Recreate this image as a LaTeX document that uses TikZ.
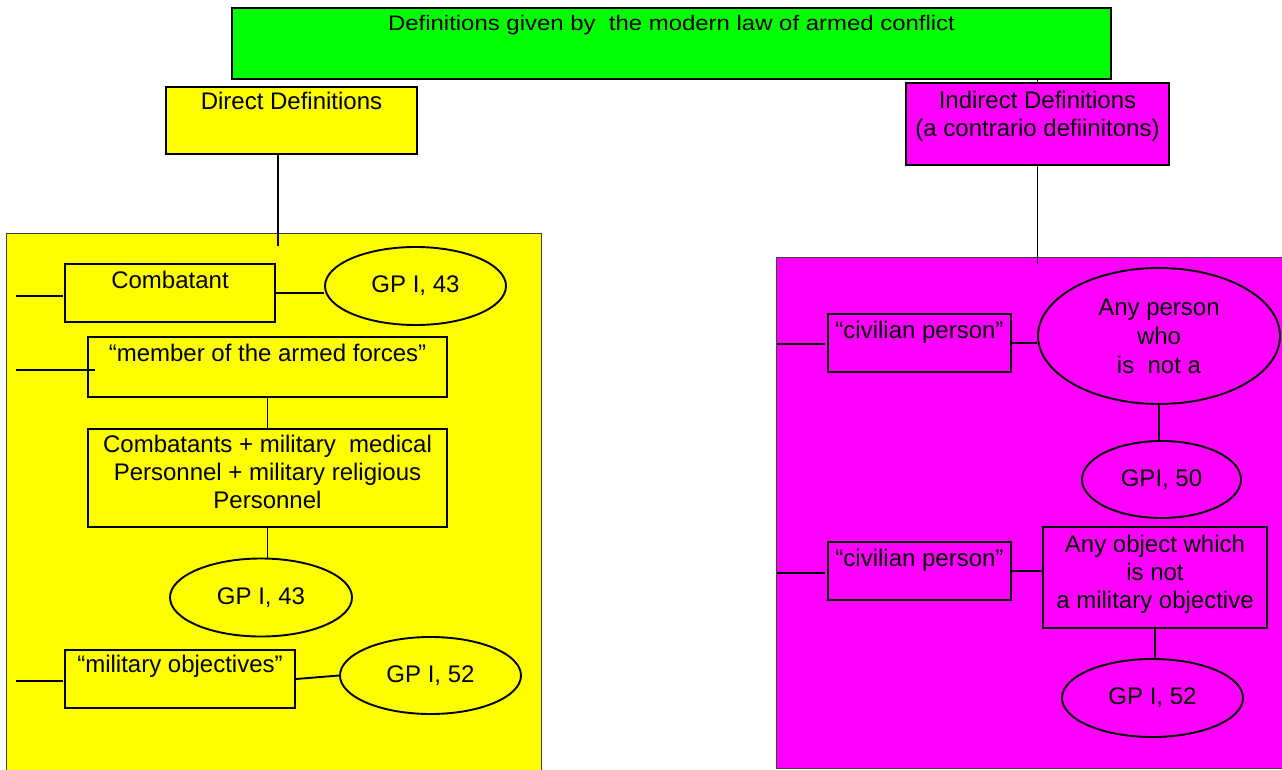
\documentclass[tikz,border=0pt]{standalone}
\usepackage{fontspec}
\setmainfont{Liberation Sans}
\usetikzlibrary{shapes.geometric}
\definecolor{ylw}{RGB}{255,255,0}
\definecolor{mgt}{RGB}{255,0,255}
\definecolor{grn}{RGB}{0,255,0}
\newcommand{\tbx}[4]{\parbox[c][#2pt][t]{#1pt}{\centering\vspace*{#3pt}#4\par}}
\begin{document}
\begin{tikzpicture}[x=1pt,y=-1pt,
  font=\fontsize{24}{28}\selectfont,
  tbox/.style={draw, line width=1.9pt, rectangle, inner sep=0pt},
  oval/.style={draw, line width=1.9pt, ellipse, inner sep=0pt, align=center},
  conn/.style={line width=1.9pt},
  bgbox/.style={draw=black!75, line width=0.9pt, rectangle, inner sep=0pt}]
\useasboundingbox (0,0) rectangle (1282,770);
% background panels
\node[bgbox, fill=ylw, minimum width=535pt, minimum height=542pt] (ybg) at (273.5,504) {};
\node[bgbox, fill=mgt, minimum width=514pt, minimum height=511pt] (mbg) at (1033,512.5) {};
% top level
\node[tbox, fill=grn] (green) at (671.5,43.5) {\tbx{879}{71}{7}{\fontsize{21}{25}\selectfont\scalebox{1.14}[1]{Definitions given by\ \ the modern law of armed conflict}}};
\node[tbox, fill=ylw] (direct) at (291.5,120.5) {\tbx{251}{67}{5}{Direct Definitions}};
\node[tbox, fill=mgt] (ind) at (1037.5,124) {\tbx{263}{82}{8}{Indirect Definitions\\(a contrario defiinitons)}};
% left column
\node[tbox] (comb) at (170,293) {\tbx{210}{58}{7}{Combatant}};
\node[oval, minimum width=181pt, minimum height=78pt] (gp1) at (415.5,286) {GP I, 43};
\node[tbox] (member) at (267.5,367) {\tbx{359}{60}{7}{“member of the armed forces”}};
\node[tbox] (cpers) at (267.5,478) {\tbx{359}{98}{6}{Combatants + military\ \ medical\\Personnel + military religious\\Personnel}};
\node[oval, minimum width=182pt, minimum height=78pt] (gp2) at (261,597.5) {GP I, 43};
\node[tbox] (milobj) at (180,679) {\tbx{230}{58}{5}{“military objectives”}};
\node[oval, minimum width=181pt, minimum height=77pt] (gp3) at (430.5,675.5) {GP I, 52};
% right column
\node[tbox] (civ1) at (919.5,343) {\tbx{183}{58}{7}{“civilian person”}};
\node[oval, minimum width=242pt, minimum height=136pt, font=\fontsize{24}{29}\selectfont] (anyp) at (1159,336) {Any person\\who\\is\ \ not a};
\node[oval, minimum width=159pt, minimum height=77pt] (gp50) at (1161.5,479.5) {GPI, 50};
\node[tbox] (civ2) at (919.5,571) {\tbx{183}{58}{7}{“civilian person”}};
\node[tbox] (anyobj) at (1155,577.5) {\tbx{224}{101}{8}{Any object which\\is not\\a military objective}};
\node[oval, minimum width=181pt, minimum height=78pt] (gp52b) at (1152.5,698) {GP I, 52};
% free-end coordinates
\coordinate (dEnd) at (278,246);
\coordinate (iEnd) at (1038,264);
\coordinate (s1a) at (16,296); \coordinate (s1b) at (63,296);
\coordinate (s2a) at (16,370); \coordinate (s2b) at (95,370);
\coordinate (s3a) at (16,681); \coordinate (s3b) at (63,681);
\coordinate (s4a) at (777,344); \coordinate (s4b) at (825,344);
\coordinate (s5a) at (777,573); \coordinate (s5b) at (825,573);
% connectors
\draw[conn] (ind.north) -- (ind.north |- green.south);
\draw[conn] (direct.south -| dEnd) -- (dEnd);
\draw[conn] (ind.south) -- (ind.south |- iEnd);
\draw[conn] (s1a) -- (s1b);
\draw[conn] (s2a) -- (s2b);
\draw[conn] (s3a) -- (s3b);
\draw[conn] (s4a) -- (s4b);
\draw[conn] (s5a) -- (s5b);
\draw[conn] (comb.east) -- (comb.east -| gp1.west);
\draw[conn] (member.south) -- (member.south |- cpers.north);
\draw[conn] (cpers.south) -- (cpers.south |- gp2.north);
\draw[conn] (milobj.east) -- (gp3.west);
\draw[conn] (civ1.east) -- (civ1.east -| anyp.west);
\draw[conn] (anyp.south) -- (anyp.south |- gp50.north);
\draw[conn] (civ2.east) -- (civ2.east -| anyobj.west);
\draw[conn] (anyobj.south) -- (anyobj.south |- gp52b.north);
\end{tikzpicture}
\end{document}
